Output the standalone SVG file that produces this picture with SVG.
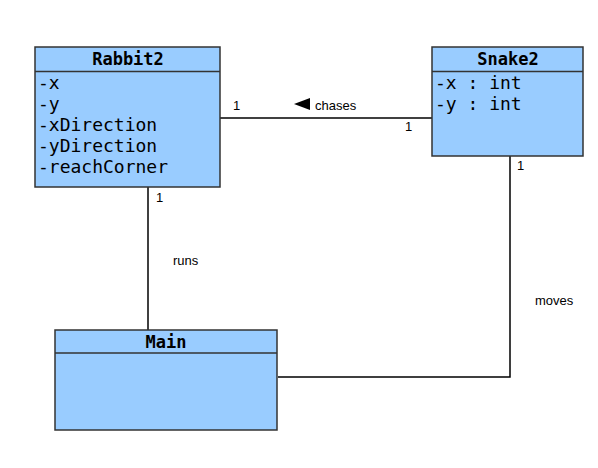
<svg xmlns="http://www.w3.org/2000/svg" width="598" height="468" viewBox="0 0 598 468">
<style>
.box{fill:#99ccff;stroke:#333333;stroke-width:1.5}
.div{stroke:#333333;stroke-width:1.5}
.title{font-family:"DejaVu Sans Mono",monospace;font-weight:bold;font-size:17px;fill:#000;text-anchor:middle}
.attr{font-family:"DejaVu Sans Mono",monospace;font-size:18px;fill:#000}
.edge{fill:none;stroke:#000;stroke-width:1.5}
.lbl{font-family:"Liberation Sans",Arial,sans-serif;font-size:13px;fill:#000}
</style>
<rect width="598" height="468" fill="#ffffff"/>
<g id="connectors">
<line class="edge" x1="220" y1="118" x2="432" y2="118"/>
<polygon points="294,104 310,98 310,110" fill="#000"/>
<text class="lbl" x="315" y="110">chases</text>
<text class="lbl" x="233" y="110">1</text>
<text class="lbl" x="405" y="131">1</text>
<line class="edge" x1="148" y1="187" x2="148" y2="330"/>
<text class="lbl" x="156" y="202">1</text>
<text class="lbl" x="173" y="265">runs</text>
<polyline class="edge" points="510,156 510,377 278,377"/>
<text class="lbl" x="517" y="170">1</text>
<text class="lbl" x="535" y="305">moves</text>
</g>
<g id="Rabbit2">
<rect class="box" x="35" y="47" width="185" height="140"/>
<line class="div" x1="35" y1="71.5" x2="220" y2="71.5"/>
<text class="title" x="128" y="65">Rabbit2</text>
<text class="attr" x="38" y="89">-x</text>
<text class="attr" x="38" y="110">-y</text>
<text class="attr" x="38" y="131">-xDirection</text>
<text class="attr" x="38" y="152">-yDirection</text>
<text class="attr" x="38" y="173">-reachCorner</text>
</g>
<g id="Snake2">
<rect class="box" x="432" y="47" width="151" height="109"/>
<line class="div" x1="432" y1="71.5" x2="583" y2="71.5"/>
<text class="title" x="508" y="65">Snake2</text>
<text class="attr" x="435" y="89">-x : int</text>
<text class="attr" x="435" y="110">-y : int</text>
</g>
<g id="Main">
<rect class="box" x="55" y="330" width="222" height="100"/>
<line class="div" x1="55" y1="353" x2="277" y2="353"/>
<text class="title" x="166" y="348">Main</text>
</g>
</svg>
